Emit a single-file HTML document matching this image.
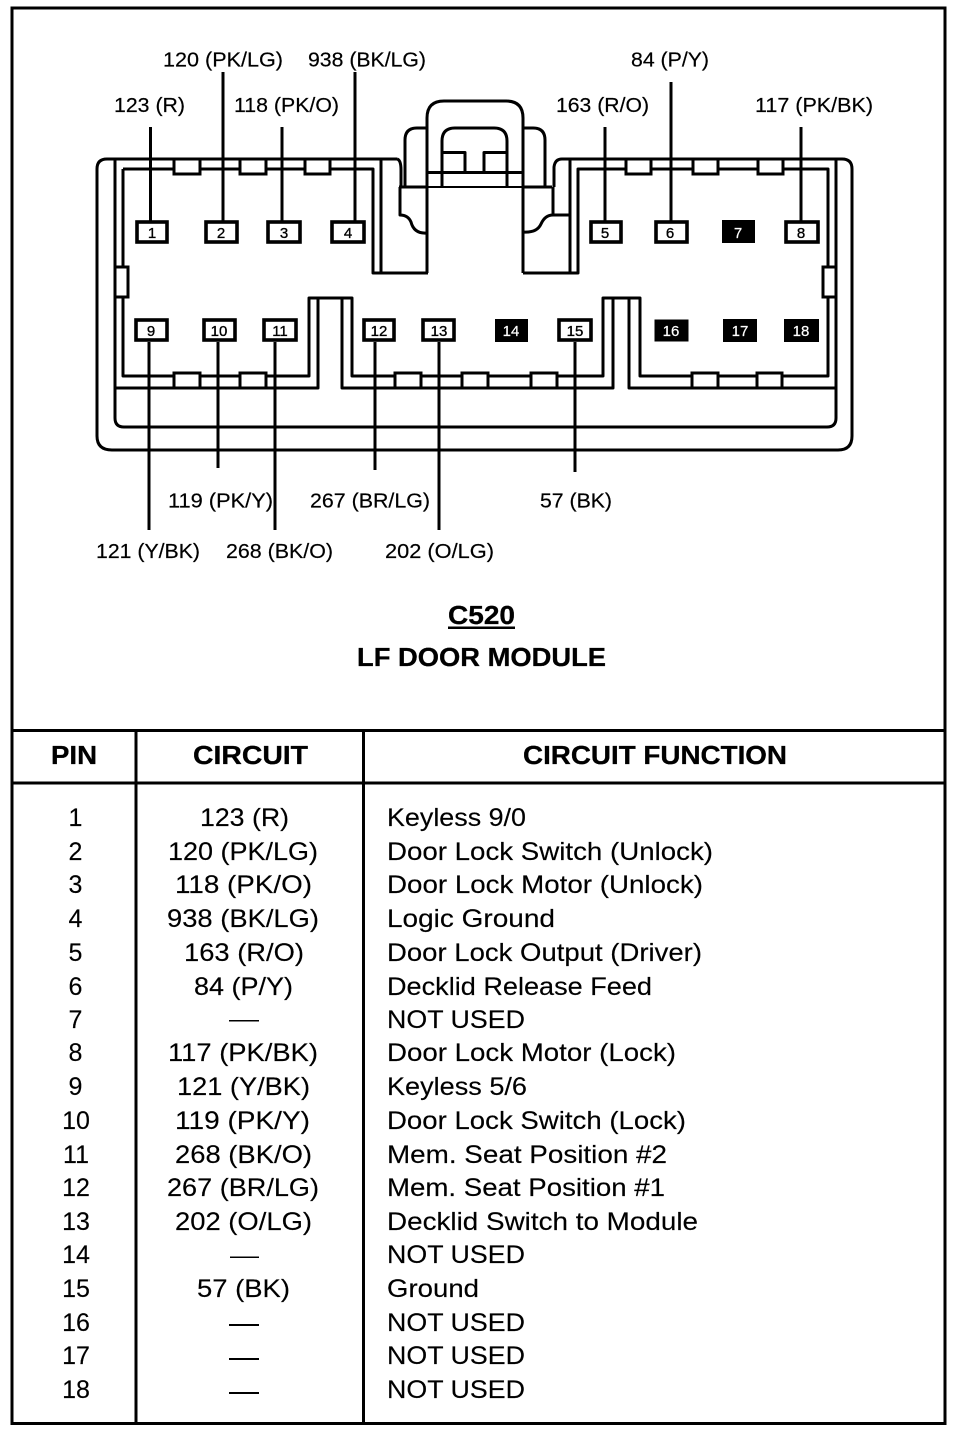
<!DOCTYPE html>
<html><head><meta charset="utf-8"><style>
html,body{margin:0;padding:0;background:#fff}
svg{display:block}
text{font-family:"Liberation Sans",Arial,sans-serif;fill:#000}
.l{font-size:20.5px;stroke:#000;stroke-width:.2}
.n{font-size:15px;text-anchor:middle;stroke:#000;stroke-width:.35}
.n .w{fill:#fff;stroke:#fff;stroke-width:.2}
.t{font-size:25px;stroke:#000;stroke-width:.15}
.b{font-weight:bold;font-size:26px;stroke:#000;stroke-width:.3}
.ln{fill:none;stroke:#000;stroke-width:3;stroke-linejoin:round}
.tn{fill:none;stroke:#000;stroke-width:2}
.tab{fill:#fff;stroke:#000;stroke-width:3}
.box{fill:#fff;stroke:#000;stroke-width:3.6}
.blk{fill:#000;stroke:#000;stroke-width:1}
.wire{stroke:#000;stroke-width:3;fill:none}
</style></head><body>
<svg width="960" height="1434" viewBox="0 0 960 1434" xmlns="http://www.w3.org/2000/svg">
<rect width="960" height="1434" fill="#fff"/>
<!-- frame -->
<g stroke="#000" fill="none">
<rect x="12" y="8" width="933" height="1415.5" stroke-width="3"/>
<path d="M12 730.5H945M12 783H945" stroke-width="3"/>
<path d="M136 730V1424M363.500 730V1424" stroke-width="3"/>
</g>

<!-- connector outer -->
<path class="ln" d="M397 159H107Q97 159 97 169V436Q97 450 112 450H838Q852 450 852 436V169Q852 159 842 159H562Q555 159 554 167V187"/>
<path class="ln" d="M397 159Q401 160 401 170V187"/>
<path class="ln" d="M115 159V418Q115 427 124 427H827Q836 427 836 418V159"/>
<!-- inner contours -->
<path class="ln" d="M123 169H373V273H428"/>
<path class="ln" d="M381 159V273"/>
<path class="ln" d="M123 169V376H309V298H352V376H603V298H640V376H828V169H578V273H523"/>
<path class="ln" d="M570 159V273"/>
<path class="ln" d="M115 388H318V298M342 298V388H613V298M629 298V388H836"/>
<!-- centre latch -->
<path class="ln" d="M427 273V118Q427 101 444 101H506Q523 101 523 118V273"/>
<path class="ln" d="M442 187V141Q442 128 455 128H494Q507 128 507 141V187"/>
<path class="ln" d="M405 187V140Q405 128 417 128H427M523 128H533Q545 128 545 140V187"/>
<path class="ln" d="M427 172.500H523"/>
<path class="tn" d="M427 187H523"/>
<path class="ln" d="M399 187H427M523 187H552"/>
<path class="ln" d="M442 152.500H465V172M507 152.500H484V172"/>
<path class="ln" d="M400 187V215Q408 215 411 222Q414 234 427 233"/>
<path class="ln" d="M553 187V215H570M553 215Q545 215 541 224Q537 233 523 232"/>
<!-- tabs -->
<g class="tab">
<rect x="174" y="159" width="26" height="15"/>
<rect x="240" y="159" width="26" height="15"/>
<rect x="305" y="159" width="25" height="15"/>
<rect x="626" y="159" width="25" height="15"/>
<rect x="693" y="159" width="25" height="15"/>
<rect x="758" y="159" width="25" height="15"/>
<rect x="174" y="373" width="26" height="15"/>
<rect x="240" y="373" width="26" height="15"/>
<rect x="395" y="373" width="26" height="15"/>
<rect x="462" y="373" width="26" height="15"/>
<rect x="531" y="373" width="26" height="15"/>
<rect x="692" y="373" width="26" height="15"/>
<rect x="757" y="373" width="25" height="15"/>
<rect x="115" y="267" width="13" height="30"/>
<rect x="823" y="267" width="13" height="30"/>
</g>
<!-- wires -->
<g class="wire">
<path d="M150.500 127V221M223 72V221M282 127V221M355 72V221M605 127V221M671 82V221M801 127V221"/>
<path d="M149 342V530M218 342V468M275 342V530M375 342V470M439 342V530M575 342V472"/>
</g>
<!-- pin boxes -->
<g class="box">
<rect x="137" y="222" width="30" height="20"/>
<rect x="206" y="222" width="31" height="20"/>
<rect x="268" y="222" width="32" height="20"/>
<rect x="332" y="222" width="32" height="20"/>
<rect x="591" y="222" width="30" height="20"/>
<rect x="656" y="222" width="31" height="20"/>
<rect x="786" y="222" width="32" height="20"/>
<rect x="136" y="320" width="31" height="20"/>
<rect x="204" y="320" width="31" height="20"/>
<rect x="264" y="320" width="32" height="20"/>
<rect x="364" y="320" width="30" height="20"/>
<rect x="423" y="320" width="31" height="20"/>
<rect x="559" y="320" width="32" height="20"/>
</g>
<g class="blk">
<rect x="722.500" y="220.500" width="32" height="22"/>
<rect x="495.500" y="319.500" width="32" height="22"/>
<rect x="655" y="320" width="33" height="21"/>
<rect x="723.500" y="319.500" width="33" height="22"/>
<rect x="784.500" y="319.500" width="34" height="22"/>
</g>
<g class="n">
<text x="152" y="238">1</text><text x="221" y="238">2</text><text x="284" y="238">3</text><text x="348" y="238">4</text>
<text x="605" y="238">5</text><text x="670" y="238">6</text><text x="738" y="238" class="w">7</text><text x="801" y="238">8</text>
<text x="151" y="336">9</text><text x="219" y="336">10</text><text x="280" y="336">11</text><text x="379" y="336">12</text><text x="439" y="336">13</text>
<text x="511" y="336" class="w">14</text><text x="575" y="336">15</text><text x="671" y="336" class="w">16</text><text x="740" y="336" class="w">17</text><text x="801" y="336" class="w">18</text>
</g>
<!-- wire labels -->
<g class="l">
<text x="163" y="66.500" textLength="120" lengthAdjust="spacingAndGlyphs">120 (PK/LG)</text>
<text x="308" y="66.500" textLength="118" lengthAdjust="spacingAndGlyphs">938 (BK/LG)</text>
<text x="631" y="66.500" textLength="78" lengthAdjust="spacingAndGlyphs">84 (P/Y)</text>
<text x="114" y="112" textLength="71" lengthAdjust="spacingAndGlyphs">123 (R)</text>
<text x="234" y="112" textLength="105" lengthAdjust="spacingAndGlyphs">118 (PK/O)</text>
<text x="556" y="112" textLength="93" lengthAdjust="spacingAndGlyphs">163 (R/O)</text>
<text x="755" y="112" textLength="118" lengthAdjust="spacingAndGlyphs">117 (PK/BK)</text>
<text x="168" y="507.500" textLength="105" lengthAdjust="spacingAndGlyphs">119 (PK/Y)</text>
<text x="310" y="507.500" textLength="120" lengthAdjust="spacingAndGlyphs">267 (BR/LG)</text>
<text x="540" y="507.500" textLength="72" lengthAdjust="spacingAndGlyphs">57 (BK)</text>
<text x="96" y="558" textLength="104" lengthAdjust="spacingAndGlyphs">121 (Y/BK)</text>
<text x="226" y="558" textLength="107" lengthAdjust="spacingAndGlyphs">268 (BK/O)</text>
<text x="385" y="558" textLength="109" lengthAdjust="spacingAndGlyphs">202 (O/LG)</text>
</g>
<!-- title -->
<text class="b" x="448" y="624" textLength="67" lengthAdjust="spacingAndGlyphs">C520</text>
<rect x="448" y="626.500" width="67" height="2.500"/>
<text class="b" x="357" y="666" textLength="249" lengthAdjust="spacingAndGlyphs">LF DOOR MODULE</text>
<!-- header -->
<text class="b" x="51" y="764" textLength="46" lengthAdjust="spacingAndGlyphs">PIN</text>
<text class="b" x="193" y="764" textLength="115" lengthAdjust="spacingAndGlyphs">CIRCUIT</text>
<text class="b" x="523" y="764" textLength="264" lengthAdjust="spacingAndGlyphs">CIRCUIT FUNCTION</text>
<!-- pins -->
<g class="t" text-anchor="middle">
<text x="75.500" y="826">1</text><text x="75.500" y="860">2</text><text x="75.500" y="893">3</text><text x="75.500" y="927">4</text>
<text x="75.500" y="961">5</text><text x="75.500" y="995">6</text><text x="75.500" y="1028">7</text><text x="75.500" y="1061">8</text>
<text x="75.500" y="1095">9</text><text x="76" y="1129">10</text><text x="76" y="1163">11</text><text x="76" y="1196">12</text>
<text x="76" y="1230">13</text><text x="76" y="1263">14</text><text x="76" y="1297">15</text><text x="76" y="1331">16</text>
<text x="76" y="1364">17</text><text x="76" y="1398">18</text>
</g>
<!-- circuits -->
<g class="t">
<text x="200" y="826" textLength="89" lengthAdjust="spacingAndGlyphs">123 (R)</text>
<text x="168" y="860" textLength="150" lengthAdjust="spacingAndGlyphs">120 (PK/LG)</text>
<text x="175" y="893" textLength="137" lengthAdjust="spacingAndGlyphs">118 (PK/O)</text>
<text x="167" y="927" textLength="152" lengthAdjust="spacingAndGlyphs">938 (BK/LG)</text>
<text x="184" y="961" textLength="120" lengthAdjust="spacingAndGlyphs">163 (R/O)</text>
<text x="194" y="995" textLength="99" lengthAdjust="spacingAndGlyphs">84 (P/Y)</text>
<text x="168" y="1061" textLength="150" lengthAdjust="spacingAndGlyphs">117 (PK/BK)</text>
<text x="177" y="1095" textLength="133" lengthAdjust="spacingAndGlyphs">121 (Y/BK)</text>
<text x="175" y="1129" textLength="135" lengthAdjust="spacingAndGlyphs">119 (PK/Y)</text>
<text x="175" y="1163" textLength="137" lengthAdjust="spacingAndGlyphs">268 (BK/O)</text>
<text x="167" y="1196" textLength="152" lengthAdjust="spacingAndGlyphs">267 (BR/LG)</text>
<text x="175" y="1230" textLength="137" lengthAdjust="spacingAndGlyphs">202 (O/LG)</text>
<text x="197" y="1297" textLength="93" lengthAdjust="spacingAndGlyphs">57 (BK)</text>
</g>
<g fill="#000">
<rect x="229" y="1020" width="30" height="1.500"/>
<rect x="230" y="1256.500" width="29" height="1.500"/>
<rect x="229" y="1324" width="30" height="2"/>
<rect x="229" y="1358" width="30" height="2"/>
<rect x="229" y="1392" width="30" height="2"/>
</g>
<!-- functions -->
<g class="t">
<text x="387" y="826" textLength="139" lengthAdjust="spacingAndGlyphs">Keyless 9/0</text>
<text x="387" y="860" textLength="326" lengthAdjust="spacingAndGlyphs">Door Lock Switch (Unlock)</text>
<text x="387" y="893" textLength="316" lengthAdjust="spacingAndGlyphs">Door Lock Motor (Unlock)</text>
<text x="387" y="927" textLength="168" lengthAdjust="spacingAndGlyphs">Logic Ground</text>
<text x="387" y="961" textLength="315" lengthAdjust="spacingAndGlyphs">Door Lock Output (Driver)</text>
<text x="387" y="995" textLength="265" lengthAdjust="spacingAndGlyphs">Decklid Release Feed</text>
<text x="387" y="1028" textLength="138" lengthAdjust="spacingAndGlyphs">NOT USED</text>
<text x="387" y="1061" textLength="289" lengthAdjust="spacingAndGlyphs">Door Lock Motor (Lock)</text>
<text x="387" y="1095" textLength="140" lengthAdjust="spacingAndGlyphs">Keyless 5/6</text>
<text x="387" y="1129" textLength="299" lengthAdjust="spacingAndGlyphs">Door Lock Switch (Lock)</text>
<text x="387" y="1163" textLength="280" lengthAdjust="spacingAndGlyphs">Mem. Seat Position #2</text>
<text x="387" y="1196" textLength="278" lengthAdjust="spacingAndGlyphs">Mem. Seat Position #1</text>
<text x="387" y="1230" textLength="311" lengthAdjust="spacingAndGlyphs">Decklid Switch to Module</text>
<text x="387" y="1263" textLength="138" lengthAdjust="spacingAndGlyphs">NOT USED</text>
<text x="387" y="1297" textLength="92" lengthAdjust="spacingAndGlyphs">Ground</text>
<text x="387" y="1331" textLength="138" lengthAdjust="spacingAndGlyphs">NOT USED</text>
<text x="387" y="1364" textLength="138" lengthAdjust="spacingAndGlyphs">NOT USED</text>
<text x="387" y="1398" textLength="138" lengthAdjust="spacingAndGlyphs">NOT USED</text>
</g>
</svg>
</body></html>
